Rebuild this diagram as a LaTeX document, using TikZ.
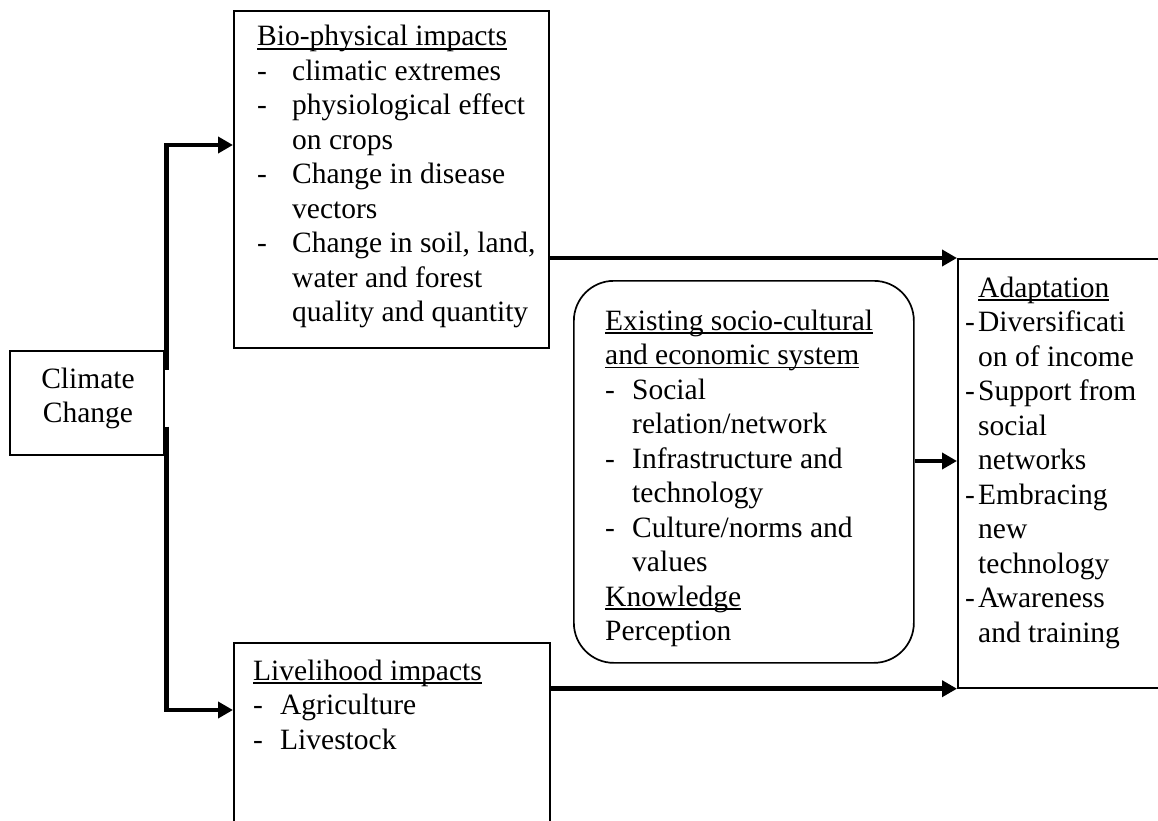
\documentclass[tikz,border=0pt]{standalone}
\usepackage{fontspec}
\setmainfont{Liberation Serif}
\usetikzlibrary{arrows.meta,calc}
\newcommand\ulx[1]{\leavevmode\setbox0\hbox{#1}\rlap{\rule[-3.8pt]{\wd0}{1.4pt}}\box0}
\newcommand\itmx[1]{\makebox[#1][l]{-}}
\newcommand\contx[1]{\hspace*{#1}}
\newcommand\fsx{\fontsize{29.5pt}{34.5pt}\selectfont}
\tikzset{
  boxx/.style={draw, line width=1.7pt, inner sep=0pt, anchor=north west},
  txt/.style={anchor=base west, inner sep=0pt, font=\fsx},
  conn/.style={line width=4.8pt, line join=miter, -{Triangle[length=15pt,width=16pt]}}
}
\begin{document}
\begin{tikzpicture}[x=1pt,y=-1pt]
\useasboundingbox (0,0) rectangle (1158,821);
\clip (0,0) rectangle (1158,821);
\fill[white] (0,0) rectangle (1158,821);
% boxes
\node[boxx, minimum width=315pt, minimum height=337pt] (bio) at (233,10) {};
\node[boxx, minimum width=154pt, minimum height=104pt] (cc) at (9,350) {};
\node[boxx, minimum width=340pt, minimum height=382pt, rounded corners=40pt] (rs) at (573,280) {};
\node[boxx, minimum width=230pt, minimum height=429pt] (adapt) at (957,258) {};
\node[boxx, minimum width=316pt, minimum height=220pt] (liv) at (233,642) {};
% texts
\node[inner sep=0pt, anchor=base, font=\fsx] (cct) at (88,388) {\parbox[t]{150pt}{\centering Climate\\Change}};
\node[txt] (biot) at (257,46) {\parbox[t]{300pt}{\ulx{Bio-physical impacts}\\
\itmx{35pt}climatic extremes\\
\itmx{35pt}physiological effect\\
\contx{35pt}on crops\\
\itmx{35pt}Change in disease\\
\contx{35pt}vectors\\
\itmx{35pt}Change in soil, land,\\
\contx{35pt}water and forest\\
\contx{35pt}quality and quantity}};
\node[txt] (rst) at (605,330) {\parbox[t]{300pt}{\ulx{Existing socio-cultural}\\
\ulx{and economic system}\\
\itmx{27pt}Social\\
\contx{27pt}relation/network\\
\itmx{27pt}Infrastructure and\\
\contx{27pt}technology\\
\itmx{27pt}Culture/norms and\\
\contx{27pt}values\\
\ulx{Knowledge}\\
Perception}};
\node[txt] (adt) at (965,297) {\parbox[t]{200pt}{\contx{13pt}\ulx{Adaptation}\\
\itmx{13pt}Diversificati\\
\contx{13pt}on of income\\
\itmx{13pt}Support from\\
\contx{13pt}social\\
\contx{13pt}networks\\
\itmx{13pt}Embracing\\
\contx{13pt}new\\
\contx{13pt}technology\\
\itmx{13pt}Awareness\\
\contx{13pt}and training}};
\node[txt] (livt) at (253,680) {\parbox[t]{300pt}{\ulx{Livelihood impacts}\\
\itmx{27pt}Agriculture\\
\itmx{27pt}Livestock}};
% connectors
\draw[conn] ($(cc.north east)+(2,20)$) |- ($(bio.north west)+(0,135)$);
\draw[conn] ($(cc.south east)+(2,-29)$) |- ($(liv.north west)+(0,68)$);
\draw[conn] ($(bio.north east)+(0,248)$) -- (adapt.north west);
\draw[conn] (rs.east |- 0,461) -- (adapt.west |- 0,461);
\draw[conn] (liv.east |- adapt.south west) -- (adapt.south west);
\end{tikzpicture}
\end{document}
